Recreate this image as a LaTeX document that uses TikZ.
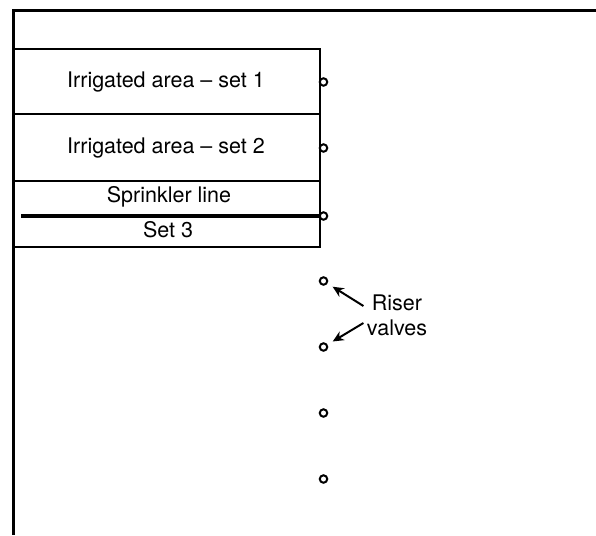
\documentclass[tikz,border=0pt]{standalone}
\usepackage{fontspec}
\setmainfont{TeX Gyre Heros}
\usepackage{tikz}
\usetikzlibrary{arrows.meta}

\begin{document}
\begin{tikzpicture}[
    x=1pt, y=-1pt,
    font=\fontsize{21.5}{25}\selectfont,
    edge/.style={line width=3pt},
    plot/.style={draw=black, line width=1.4pt},
    valve/.style={circle, draw=black, line width=2pt, fill=white, inner sep=0pt, minimum size=7.5pt},
    pointer/.style={line width=2pt, -{Stealth[length=11pt, width=10pt]}, shorten >=6pt}
]
\useasboundingbox (0,0) rectangle (596,535);

% ================================================================
% Feldgrenze (oben und links)
% ================================================================
\coordinate (corner) at (13,11);
\draw[edge] (596,11) -- (corner) -- (13,535);

% ================================================================
% Beregnete Flaechen
% ================================================================
\draw[plot] (13,49) rectangle (320,114);
\draw[plot] (13,114) rectangle (320,181);
\draw[plot] (13,181) rectangle (320,247);

\node (set1) at (166,82) {Irrigated area -- set 1};
\node (set2) at (166,148) {Irrigated area -- set 2};
\node (line) at (169,197) {Sprinkler line};
\node (set3) at (168,230) {Set 3};

% ================================================================
% Hydranten
% ================================================================
\foreach \i/\y in {1/82, 2/148, 3/216, 4/281, 5/347, 6/413, 7/479} {
    \node[valve] (v\i) at (323.5,\y) {};
}

% Regnerleitung bis zum Hydranten
\coordinate (lstart) at (21,216);
\draw[line width=3.4pt] (lstart) -- (v3.west);

% Beschriftung
\node[align=center] (lbl) at (397,315) {Riser\\valves};
\draw[pointer] ([yshift=9pt]lbl.west) -- (v4);
\draw[pointer] ([yshift=-8pt]lbl.west) -- (v5);

\end{tikzpicture}
\end{document}
